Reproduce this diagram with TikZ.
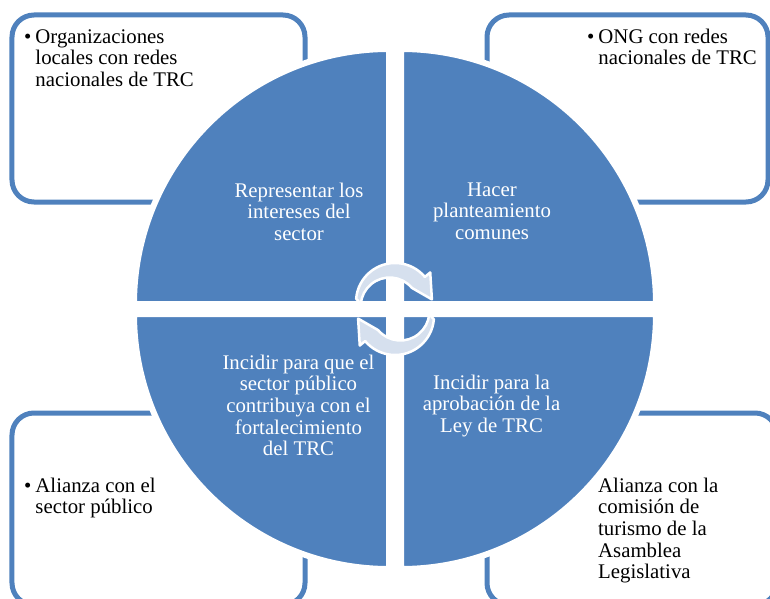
\documentclass[tikz,border=0pt]{standalone}
\usepackage{fontspec}
\setmainfont{Liberation Serif}
\usepackage{tikz}
\usetikzlibrary{positioning, calc}

\definecolor{quadblue}{RGB}{79,129,189}
\definecolor{arrowfill}{RGB}{214,224,238}

\begin{document}
\begin{tikzpicture}[x=1bp, y=-1bp,
  infobox/.style={draw=quadblue, line width=5bp, rounded corners=22bp, inner sep=0pt},
  quad/.style={fill=quadblue, draw=white, line width=6bp},
  quadtext/.style={text=white, anchor=north, inner sep=0pt, font=\fontsize{20.8bp}{21.6bp}\selectfont},
  boxtext/.style={anchor=north west, inner sep=0pt, font=\fontsize{20.8bp}{21.6bp}\selectfont},
  turn/.style={fill=arrowfill, draw=white, line width=2.5bp, line join=round}]
\useasboundingbox (0,0) rectangle (770,599);
\clip (0,0) rectangle (770,599);

% Side boxes
\node[infobox, minimum width=293bp, minimum height=187bp] (boxTL) at (158.5,108.5) {};
\node[infobox, minimum width=281bp, minimum height=187bp] (boxTR) at (627.5,108.5) {};
\node[infobox, minimum width=293bp, minimum height=192bp] (boxBL) at (158.5,509) {};
\node[infobox, minimum width=290bp, minimum height=192bp] (boxBR) at (632,509) {};

% Circle in four quarters
\filldraw[quad] (389,304) -- ++(-255,0) arc[start angle=180, end angle=270, radius=255] -- cycle;
\filldraw[quad] (401,304) -- ++(0,-255) arc[start angle=270, end angle=360, radius=255] -- cycle;
\filldraw[quad] (401,314) -- ++(255,0) arc[start angle=0, end angle=90, radius=255] -- cycle;
\filldraw[quad] (389,314) -- ++(0,255) arc[start angle=90, end angle=180, radius=255] -- cycle;

% Quarter labels
\node[quadtext] (qTL) at (299,182) {\begin{tabular}{@{}c@{}}Representar los\\intereses del\\sector\end{tabular}};
\node[quadtext] (qTR) at (492,181) {\begin{tabular}{@{}c@{}}Hacer\\planteamiento\\comunes\end{tabular}};
\node[quadtext] (qBL) at (298.5,354) {\begin{tabular}{@{}c@{}}Incidir para que el\\sector público\\contribuya con el\\fortalecimiento\\del TRC\end{tabular}};
\node[quadtext] (qBR) at (491.5,374) {\begin{tabular}{@{}c@{}}Incidir para la\\aprobación de la\\Ley de TRC\end{tabular}};

% Box labels
\node[boxtext] (orgs) at (24,28) {\begin{tabular}{@{}l@{\hspace{4bp}}l@{}}\textbullet & Organizaciones\\ & locales con redes\\ & nacionales de TRC\end{tabular}};
\node[boxtext] (ong) at (587,28) {\begin{tabular}{@{}l@{\hspace{4bp}}l@{}}\textbullet & ONG con redes\\ & nacionales de TRC\end{tabular}};
\node[boxtext] (alsp) at (24,477) {\begin{tabular}{@{}l@{\hspace{4bp}}l@{}}\textbullet & Alianza con el\\ & sector público\end{tabular}};
\node[boxtext] (alal) at (598,477) {\begin{tabular}{@{}l@{}}Alianza con la\\comisión de\\turismo de la\\Asamblea\\Legislativa\end{tabular}};

% Turning arrows
\begin{scope}[shift={(395,302)}]
  \filldraw[turn] (185:39) arc[start angle=185, end angle=320, radius=39] -- (320:46) -- (356:37) -- (320:22) arc[start angle=320, end angle=185, radius=29] -- cycle;
\end{scope}
\begin{scope}[shift={(395,316)}, rotate=180]
  \filldraw[turn] (185:39) arc[start angle=185, end angle=320, radius=39] -- (320:46) -- (356:37) -- (320:22) arc[start angle=320, end angle=185, radius=29] -- cycle;
\end{scope}
\end{tikzpicture}
\end{document}
